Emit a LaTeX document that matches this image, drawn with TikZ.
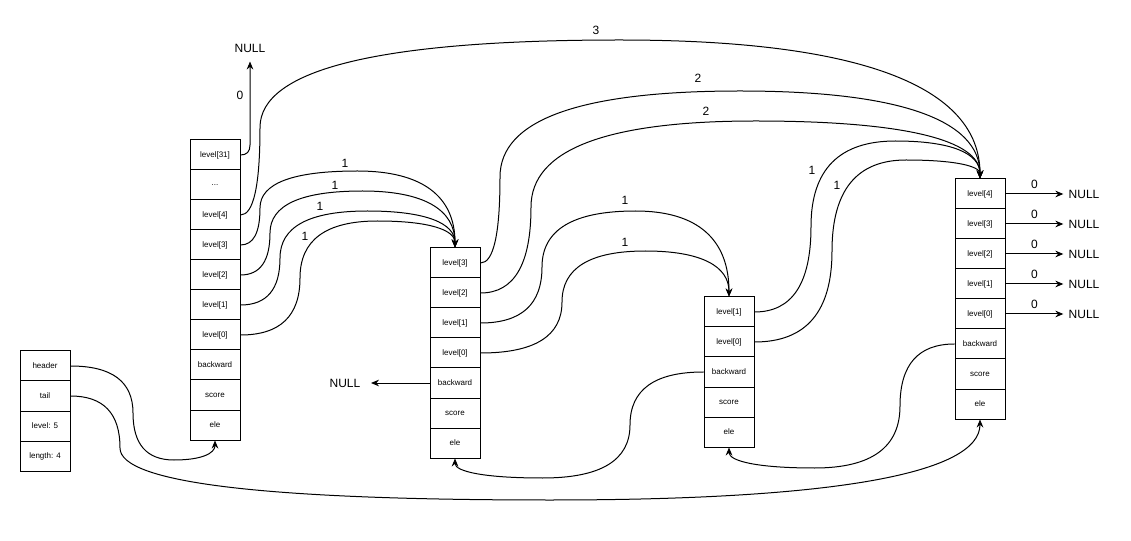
\documentclass[tikz,border=0pt]{standalone}
\usepackage{fontspec}
\setmainfont{Liberation Sans}
\usetikzlibrary{arrows.meta, calc}
\tikzset{%
  field/.style = {draw, rectangle, minimum width = 37.5pt,
    minimum height = 22.5pt, inner sep = 0pt,
    font = \fontsize{6pt}{7pt}\selectfont}, % Cell
  nil/.style   = {inner sep = 0pt, outer sep = 4pt,
    font = \fontsize{9pt}{11pt}\selectfont}, % NULL
  num/.style   = {font = \fontsize{9pt}{11pt}\selectfont}, % Span
  link/.style  = {-{Stealth[length = 6pt, width = 5pt, inset = 2pt]}}
}
\newcommand{\qto}[3]{.. controls ($(#1)!2/3!(#2)$) and ($(#3)!2/3!(#2)$) .. (#3)}
\newcommand{\route}[7]{(#1) \qto{#1}{#2}{#3} \qto{#3}{#4}{#5} \qto{#5}{#6}{#7}}

\begin{document}
\begin{tikzpicture}[x = 0.75pt, y = -0.75pt, line width = 0.75pt]
\useasboundingbox (0,0) rectangle (1131,541);
%list
\draw
	(45,366) node [field] (hd) {header}
	(45,396) node [field] (tl) {tail}
	(45,426) node [field] (lv) {level: 5}
	(45,456) node [field] (ln) {length: 4};
%header node
\draw
	(215,155) node [field] (a31) {level[31]}
	(215,185) node [field] (adots) {...}
	(215,215) node [field] (a4) {level[4]}
	(215,245) node [field] (a3) {level[3]}
	(215,275) node [field] (a2) {level[2]}
	(215,305) node [field] (a1) {level[1]}
	(215,335) node [field] (a0) {level[0]}
	(215,365) node [field] (abw) {backward}
	(215,395) node [field] (asc) {score}
	(215,425) node [field] (aele) {ele};
%nodes
\draw
	(455,263) node [field] (b3) {level[3]}
	(455,293) node [field] (b2) {level[2]}
	(455,323) node [field] (b1) {level[1]}
	(455,353) node [field] (b0) {level[0]}
	(455,383) node [field] (bbw) {backward}
	(455,413) node [field] (bsc) {score}
	(455,443) node [field] (bele) {ele};
\draw
	(729,312) node [field] (c1) {level[1]}
	(729,342) node [field] (c0) {level[0]}
	(729,372) node [field] (cbw) {backward}
	(729,402) node [field] (csc) {score}
	(729,432) node [field] (cele) {ele};
\draw
	(980,194) node [field] (d4) {level[4]}
	(980,224) node [field] (d3) {level[3]}
	(980,254) node [field] (d2) {level[2]}
	(980,284) node [field] (d1) {level[1]}
	(980,314) node [field] (d0) {level[0]}
	(980,344) node [field] (dbw) {backward}
	(980,374) node [field] (dsc) {score}
	(980,404) node [field] (dele) {ele};
%NULL
\draw
	(250,48) node [nil] (nulA) {NULL}
	(345,383) node [nil] (nulB) {NULL}
	(1084,194) node [nil] (nul4) {NULL}
	(1084,224) node [nil] (nul3) {NULL}
	(1084,254) node [nil] (nul2) {NULL}
	(1084,284) node [nil] (nul1) {NULL}
	(1084,314) node [nil] (nul0) {NULL};
%forward lines
\draw[link, shorten > = 3pt] (a31.east) \qto{a31.east}{250,155}{250,145} -- (nulA.south);
\draw[link] \route{a4.east}{260,215}{260,127.5}{260,40}{620,40}{980,40}{d4.north};
\draw[link] \route{a3.east}{260,245}{260,208}{260,171}{357.5,171}{455,171}{b3.north};
\draw[link] \route{a2.east}{270,275}{270,233}{270,191}{362.5,191}{455,191}{b3.north};
\draw[link] \route{a1.east}{280,305}{280,258}{280,211}{367.5,211}{455,211}{b3.north};
\draw[link] \route{a0.east}{300,335}{300,278}{300,221}{377.5,221}{455,221}{b3.north};
\draw[link] \route{b3.east}{500,263}{500,177}{500,91}{740,91}{980,91}{d4.north};
\draw[link] \route{b2.east}{531,293}{531,207}{531,121}{755.5,121}{980,121}{d4.north};
\draw[link] \route{b1.east}{542,323}{542,267}{542,211}{635.5,211}{729,211}{c1.north};
\draw[link] \route{b0.east}{562,353}{562,302}{562,251}{645.5,251}{729,251}{c1.north};
\draw[link] \route{c1.east}{811,312}{811,226.5}{811,141}{895.5,141}{980,141}{d4.north};
\draw[link] \route{c0.east}{832,342}{832,251}{832,160}{906,160}{980,160}{d4.north};
\draw[link] (d4.east) -- node [num, above] {0} (nul4);
\draw[link] (d3.east) -- node [num, above] {0} (nul3);
\draw[link] (d2.east) -- node [num, above] {0} (nul2);
\draw[link] (d1.east) -- node [num, above] {0} (nul1);
\draw[link] (d0.east) -- node [num, above] {0} (nul0);
%backward lines
\draw[link, shorten > = 4pt] (bbw.west) -- (nulB);
\draw[link] \route{cbw.west}{630,372}{630,425}{630,478}{542.5,478}{455,478}{bele.south};
\draw[link] \route{dbw.west}{900,344}{900,406}{900,468}{814.5,468}{729,468}{cele.south};
%header and tail
\draw[link] \route{hd.east}{133,366}{133,413}{133,460}{174,460}{215,460}{aele.south};
\draw[link] \route{tl.east}{120,396}{120,448}{120,500}{550,500}{980,500}{dele.south};
%labels
\node[num] (t0) at (240,95) {0};
\node[num] (t3) at (596,30) {3};
\node[num] (ta3) at (345,163) {1};
\node[num] (ta2) at (335,185) {1};
\node[num] (ta1) at (320,206) {1};
\node[num] (ta0) at (305,236) {1};
\node[num] (tb3) at (698,78) {2};
\node[num] (tb2) at (706,111) {2};
\node[num] (tb1) at (625,200) {1};
\node[num] (tb0) at (625,242) {1};
\node[num] (tc1) at (812,170) {1};
\node[num] (tc0) at (837,185) {1};
\end{tikzpicture}
\end{document}
